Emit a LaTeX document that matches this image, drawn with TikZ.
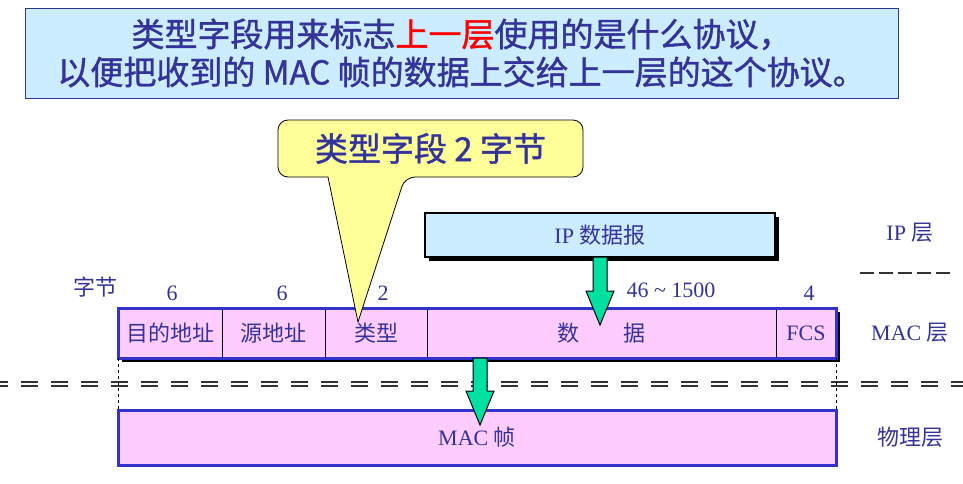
\documentclass[tikz,border=0pt]{standalone}
\usepackage{xcolor}
\usepackage{amsmath}
\usepackage{fontspec}
\setmainfont{Liberation Serif}
\newfontfamily\cjk{Noto Sans CJK SC}
\newfontfamily\cjkhead[FakeBold=1.2]{Noto Sans CJK SC}
\usepackage{tikz}
\usetikzlibrary{positioning,calc,backgrounds,shadows}

\definecolor{ink}{RGB}{51,51,153}
\definecolor{skyfill}{RGB}{204,236,255}
\definecolor{pinkfill}{RGB}{255,204,255}
\definecolor{frameblue}{RGB}{51,51,204}
\definecolor{notefill}{RGB}{255,255,153}
\definecolor{arrowgreen}{RGB}{0,224,160}

\newcommand{\fsz}[1]{\fontsize{#1}{#1}\selectfont}
% fat green arrow going down from #1 to #2
\newcommand{\fatarrow}[2]{%
  \filldraw[fill=arrowgreen,draw=black,line width=1pt] let \p1=(#1), \p2=(#2) in
    (\x1-7pt,\y1) -- (\x1+7pt,\y1) -- (\x1+7pt,\y2+34pt) -- (\x1+14pt,\y2+34pt)
    -- (\x1,\y2) -- (\x1-14pt,\y2+34pt) -- (\x1-7pt,\y2+34pt) -- cycle;}

\begin{document}
\begin{tikzpicture}[x=1pt,y=-1pt,inner sep=0pt,outer sep=0pt]
        \tikzstyle{lab}=[text=ink,font=\fsz{22}]
        \tikzstyle{field}=[draw=black,thin,fill=pinkfill,minimum height=50,text=ink,font=\fsz{22}]
        \tikzstyle{border}=[black!80,line width=1.7pt,dash pattern=on 17pt off 13pt,dash phase=9pt]
        \useasboundingbox (0,0) rectangle (963,483);

        % heading
        \node[draw=ink,thin,fill=skyfill,minimum width=873,minimum height=90,
              align=center,text=ink,font=\cjkhead\fontsize{33}{38}\selectfont] (Hd) at (461.5,53)
              {类型字段用来标志\textcolor{red}{上一层}使用的是什么协议，\\以便把收到的 MAC 帧的数据上交给上一层的这个协议。};

        % IP layer
        \node[draw=black,line width=2pt,fill=skyfill,minimum width=350,minimum height=44,lab,
              drop shadow={shadow xshift=4pt,shadow yshift=-4pt,fill=black,opacity=1}] (Ip) at (600,235)
              {IP {\cjk 数据报}};
        \node[lab] (Lip) at (910,233) {IP {\cjk 层}};
        \draw[black!80,line width=1.5pt,dash pattern=on 14pt off 5pt] (860,273) -- (950,273);

        % MAC frame fields
        \node[field,minimum width=104,anchor=north west] (Dst) at (118,308) {\cjk 目的地址};
        \node[field,minimum width=103,right=0pt of Dst] (Src) {\cjk 源地址};
        \node[field,minimum width=102,right=0pt of Src] (Ty) {\cjk 类型};
        \node[field,minimum width=349,right=0pt of Ty] (Da) {\cjk 数\hspace{45pt}据};
        \node[field,minimum width=60,right=0pt of Da] (Fcs) {FCS};
        \begin{scope}[on background layer]
            \fill[black] ([shift={(3.5,3.5)}]Dst.north west) rectangle ([shift={(3.5,3.5)}]Fcs.south east);
        \end{scope}
        \draw[frameblue,line width=3pt] (Dst.north west) rectangle (Fcs.south east);
        \node[lab] (Lmac) at (910,333) {MAC {\cjk 层}};

        % byte counts
        \node[lab] (Bt) at (95,287) {\cjk 字节};
        \node[lab] (N1) at (172,293) {6};
        \node[lab] (N2) at (282,293) {6};
        \node[lab] (N3) at (383,293) {2};
        \node[lab] (N4) at (671,290) {46 \textasciitilde{} 1500};
        \node[lab] (N5) at (809,293) {4};

        % layer border
        \draw[border] (0,382) -- (963,382);
        \draw[border] (0,386) -- (963,386);

        % physical layer
        \node[draw=frameblue,line width=3pt,fill=pinkfill,minimum width=718,minimum height=55,
              anchor=north west,lab] (Phy) at (118,410) {MAC {\cjk 帧}};
        \node[lab] (Lphy) at (910,437) {\cjk 物理层};
        \draw[thin,dashed] (Dst.south west) -- (Phy.north west);
        \draw[thin,dashed] (Fcs.south east) -- (Phy.north east);

        % arrows
        \coordinate (Dtip) at ([yshift=-17pt]Da.north);
        \coordinate (Pout) at ([xshift=3pt]Dst.south west -| Phy.north);
        \coordinate (Ptip) at ([yshift=-15pt]Phy.north);
        \fatarrow{Ip.south}{Dtip}
        \fatarrow{Pout}{Ptip}

        % callout
        \path (430.5,148.5) node[minimum width=305,minimum height=57] (Note) {};
        \coordinate (Tip) at ([shift={(-18,-11)}]Ty.center);
        \filldraw[fill=notefill,draw=black,line width=0.8pt] (Tip) -- ([xshift=50pt]Note.south west)
            [rounded corners=10pt] -- (Note.south west) -- (Note.north west) -- (Note.north east)
            -- (Note.south east) -- ([xshift=127pt]Note.south west) [sharp corners] -- cycle
            node[text=ink,font=\cjkhead\fsz{33}] at (Note.center) {类型字段 2 字节};
\end{tikzpicture}
\end{document}
